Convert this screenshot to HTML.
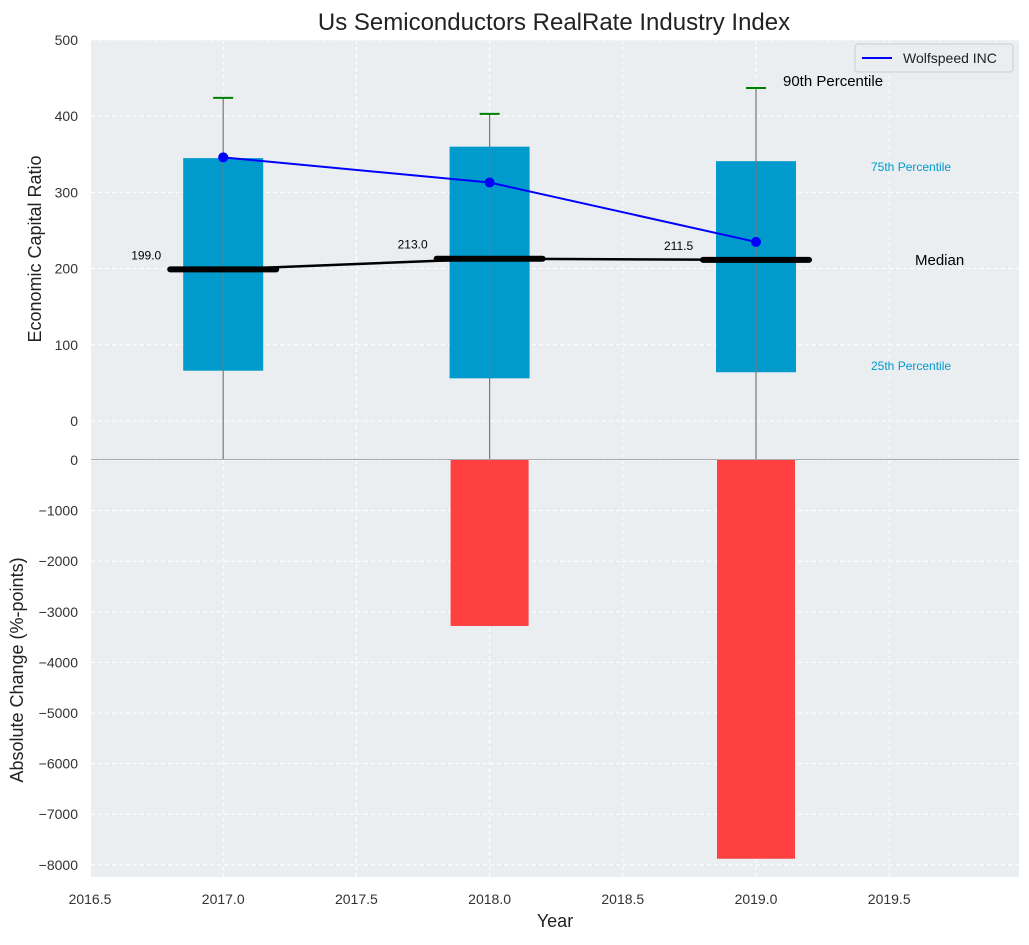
<!DOCTYPE html>
<html><head><meta charset="utf-8"><style>
body{margin:0;background:#fff;font-family:"Liberation Sans","DejaVu Sans",sans-serif;}
</style></head><body>
<svg id="c" width="1029" height="940" xmlns="http://www.w3.org/2000/svg" font-family="Liberation Sans, DejaVu Sans, sans-serif">
<text x="554" y="30" text-anchor="middle" font-size="24" fill="#222">Us Semiconductors RealRate Industry Index</text>
<g id="gtop"></g><g id="gbot"></g>
</svg>
<script>
const years=[2017,2018,2019];
const q25=[66,56,64];
const q75=[345,360,341];
const p90=[424,403,437];
const medians=[199,213,211.5];
const company=[346,313,235];
const changes=[0,-3280,-7880];
const topTicks=[0,100,200,300,400,500];
const botTicks=[0,-1000,-2000,-3000,-4000,-5000,-6000,-7000,-8000];
const xTicks=[2016.5,2017,2017.5,2018,2018.5,2019,2019.5];

const NS="http://www.w3.org/2000/svg";
const X0=91,X1=1019;
const x=v=>90+(v-2016.5)*266.4;
const yT=v=>421-v*0.762;
const ybot=v=>460+(-v)*0.0506;
function mk(p,t,a){const e=document.createElementNS(NS,t);for(const k in a)e.setAttribute(k,a[k]);p.appendChild(e);return e;}
const gTop=document.getElementById('gtop'),gBot=document.getElementById('gbot');

let e=mk(gTop,'rect',{x:X0,y:40,width:X1-X0,height:419,fill:'#eaeef0'});


e=mk(gBot,'rect',{x:X0,y:460,width:X1-X0,height:417,fill:'#eaeef0'});



xTicks.forEach(t=>{[gTop,gBot].forEach((g,i)=>{const l=mk(g,'line',{x1:x(t),x2:x(t),y1:i?460:40,y2:i?877:459,stroke:'#fff','stroke-dasharray':'4,3','stroke-width':1});

});
const tx=mk(gBot,'text',{x:x(t),y:904,'text-anchor':'middle','font-size':14,fill:'#333'});tx.textContent=t.toFixed(1);

});
topTicks.forEach(t=>{const l=mk(gTop,'line',{x1:X0,x2:X1,y1:yT(t),y2:yT(t),stroke:'#fff','stroke-dasharray':'4,3'});


const tx=mk(gTop,'text',{x:78,y:yT(t)+5,'text-anchor':'end','font-size':14,fill:'#333'});tx.textContent=t;

});
botTicks.forEach(t=>{const l=mk(gBot,'line',{x1:X0,x2:X1,y1:ybot(t),y2:ybot(t),stroke:'#fff','stroke-dasharray':'4,3'});


const tx=mk(gBot,'text',{x:78,y:ybot(t)+5,'text-anchor':'end','font-size':14,fill:'#333'});tx.textContent=t<0?'\u2212'+(-t):t;

});

years.forEach((yr,i)=>{
 let r=mk(gTop,'rect',{x:x(yr)-40,y:yT(q75[i]),width:80,height:yT(q25[i])-yT(q75[i]),fill:'#009acd'});
 
 
 let w=mk(gTop,'line',{x1:x(yr),x2:x(yr),y1:yT(p90[i]),y2:459,stroke:'#777','stroke-width':1.2});
 
 
 let c=mk(gTop,'line',{x1:x(yr)-10,x2:x(yr)+10,y1:yT(p90[i]),y2:yT(p90[i]),stroke:'green','stroke-width':2});
 
 
});
let pts=years.map((yr,i)=>x(yr)+','+yT(medians[i])).join(' ');
e=mk(gTop,'polyline',{points:pts,fill:'none',stroke:'#000','stroke-width':2.5});


years.forEach((yr,i)=>{
 let m=mk(gTop,'line',{x1:x(yr)-53,x2:x(yr)+53,y1:yT(medians[i]),y2:yT(medians[i]),stroke:'#000','stroke-width':6,'stroke-linecap':'round'});
 
 
 let t=mk(gTop,'text',{x:x(yr)-92,y:yT(medians[i])-10,'font-size':12,fill:'#000'});t.textContent=medians[i].toFixed(1);
 
 
});
pts=years.map((yr,i)=>x(yr)+','+yT(company[i])).join(' ');
e=mk(gTop,'polyline',{points:pts,fill:'none',stroke:'blue','stroke-width':2});


years.forEach((yr,i)=>{let d=mk(gTop,'circle',{cx:x(yr),cy:yT(company[i]),r:5,fill:'blue'});
 
 });
[["90th Percentile",783,86,15,'#000'],["75th Percentile",871,171,12,'#009acd'],["Median",915,265,15,'#000'],["25th Percentile",871,370,12,'#009acd']].forEach(a=>{
 let t=mk(gTop,'text',{x:a[1],y:a[2],'font-size':a[3],fill:a[4]});t.textContent=a[0];
 
 });
e=mk(gTop,'rect',{x:855,y:44,width:158,height:28,fill:'#eaeef0',stroke:'#ccc',rx:3});


e=mk(gTop,'line',{x1:862,x2:892,y1:58,y2:58,stroke:'blue','stroke-width':2});


e=mk(gTop,'text',{x:903,y:63,'font-size':14,fill:'#222'});e.textContent='Wolfspeed INC';


years.forEach((yr,i)=>{if(!changes[i])return;
 let r=mk(gBot,'rect',{x:x(yr)-39,y:460,width:78,height:ybot(changes[i])-460,fill:'#ff3333',opacity:0.93});
 
 });
e=mk(gBot,'line',{x1:X0,x2:X1,y1:459.5,y2:459.5,stroke:'#aaa','stroke-width':1});


e=mk(gTop,'text',{x:0,y:0,transform:'translate(41,249) rotate(-90)','text-anchor':'middle','font-size':18,fill:'#222'});e.textContent='Economic Capital Ratio';


e=mk(gBot,'text',{x:0,y:0,transform:'translate(23,670) rotate(-90)','text-anchor':'middle','font-size':18,fill:'#222'});e.textContent='Absolute Change (%-points)';


e=mk(gBot,'text',{x:555,y:927,'text-anchor':'middle','font-size':18,fill:'#222'});e.textContent='Year';


</script>
</body></html>
